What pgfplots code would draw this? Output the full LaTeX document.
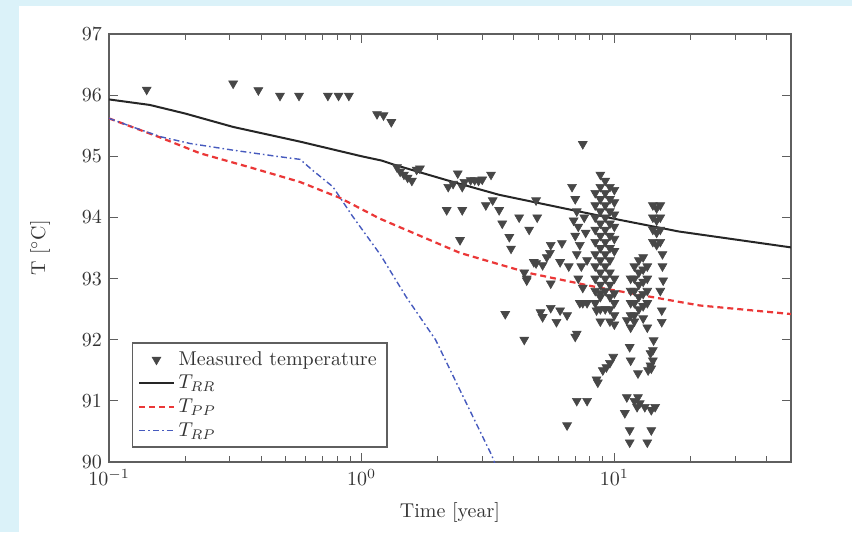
\documentclass[border=0pt]{standalone}
\usepackage{pgfplots}
\pgfplotsset{compat=1.18}
\definecolor{bgblue}{RGB}{219,242,249}
\definecolor{rred}{RGB}{235,55,55}
\definecolor{bblue}{RGB}{70,90,190}
\definecolor{axgray}{RGB}{95,95,95}
\begin{document}
\begin{tikzpicture}
\useasboundingbox (-54.5pt,-35pt) rectangle (371.5pt,231pt);
\fill[bgblue] (-54.5pt,-35pt) rectangle (371.5pt,231pt);
\fill[white] (-45pt,-40pt) rectangle (380pt,228pt);
\begin{axis}[
  width=341pt, height=214pt, scale only axis,
  xmode=log, xmin=0.1, xmax=50,
  ymin=90, ymax=97, ytick={90,91,...,97},
  axis line style={axgray, line width=0.9pt},
  every tick/.style={axgray},
  tick label style={black!80},
  xlabel={Time [year]}, ylabel={T [$^\circ$C]},
  xlabel style={black!80, at={(axis description cs:0.5,-0.117)}, anchor=center},
  ylabel style={black!80, at={(axis description cs:-0.101,0.5)}, anchor=center},
  legend style={at={(axis description cs:0.033,0.033)}, anchor=south west,
    draw=axgray, line width=0.8pt, font=\color{black!80}, row sep=-0.5pt},
  legend cell align=left,
]
\addplot[only marks, mark=triangle*, mark size=2.55pt,
  mark options={rotate=180, fill=black!72, draw=black!72, line width=0.3pt}]
  table {
t T
0.141 96.09
0.31 96.19
0.39 96.08
0.475 95.99
0.565 95.99
0.735 95.99
0.81 95.99
0.89 95.99
1.15 95.69
1.22 95.67
1.31 95.56
1.38 94.82
1.42 94.75
1.47 94.70
1.52 94.65
1.58 94.60
1.65 94.78
1.70 94.80
2.17 94.12
2.5 94.12
2.2 94.50
2.3 94.55
2.4 94.72
2.5 94.50
2.55 94.58
2.7 94.61
2.8 94.61
2.9 94.60
3.0 94.62
2.45 93.63
3.25 94.70
3.3 94.28
3.5 94.12
3.1 94.20
3.6 93.90
3.84 93.68
3.9 93.49
3.7 92.42
4.2 94.00
4.95 94.00
4.6 93.80
4.9 94.28
4.4 93.10
4.5 93.00
4.4 92.00
4.9 93.25
4.8 93.27
5.2 93.22
4.5 92.97
5.6 93.55
6.2 93.58
5.4 93.35
5.56 93.42
5.6 92.92
6.1 93.27
6.6 93.20
5.1 92.45
5.6 92.52
6.1 92.48
6.5 92.40
5.2 92.37
5.9 92.29
6.5 90.60
6.8 94.50
7.0 94.30
7.1 94.10
6.9 93.95
7.2 93.85
7.0 93.70
7.3 93.55
7.1 93.40
7.4 93.20
7.2 93.00
7.5 92.85
7.3 92.60
7.5 95.20
7.1 92.10
7.0 92.05
7.1 91.00
7.8 91.00
7.5 92.60
7.8 92.60
7.6 94.00
7.7 93.75
7.8 93.30
8.4 94.40
8.4 94.20
8.4 94.00
8.4 93.80
8.4 93.60
8.4 93.40
8.4 93.20
8.4 93.00
8.4 92.80
8.4 92.60
8.8 94.70
8.8 94.50
8.8 94.30
8.8 94.10
8.8 93.90
8.8 93.70
8.8 93.50
8.8 93.30
8.8 93.10
8.8 92.90
8.8 92.70
8.8 92.50
8.8 92.30
9.2 94.60
9.2 94.40
9.2 94.20
9.2 94.00
9.2 93.80
9.2 93.60
9.2 93.40
9.2 93.20
9.2 93.00
9.2 92.80
9.2 92.50
9.6 94.50
9.6 94.30
9.6 94.10
9.6 93.90
9.6 93.70
9.6 93.50
9.6 93.30
9.6 93.10
9.6 92.90
9.6 92.70
9.6 92.50
9.6 92.30
10.0 94.45
10.0 94.25
10.0 94.05
10.0 93.85
10.0 93.65
10.0 93.45
10.0 93.00
10.0 92.60
10.0 92.40
10.0 92.25
8.5 91.35
8.6 91.30
9.0 91.50
9.3 91.55
9.6 91.62
9.9 91.72
8.5 92.48
8.8 92.76
10.0 92.76
11.6 93.00
11.6 92.80
11.6 92.60
11.6 92.40
11.6 92.20
12.0 93.20
12.0 93.00
12.0 92.80
12.0 92.60
12.0 92.40
12.0 92.30
12.5 93.30
12.5 93.10
12.5 92.90
12.5 92.70
12.5 92.50
13.0 93.35
13.0 93.15
13.0 92.95
13.0 92.75
13.0 92.55
13.0 92.35
13.5 93.20
13.5 93.00
13.5 92.80
13.5 92.60
13.5 92.20
11.2 92.32
11.5 91.88
11.6 91.66
12.4 91.45
13.9 91.78
14.2 91.66
13.9 91.58
13.6 91.50
14.2 91.83
14.3 91.99
14.0 91.53
11.2 91.06
12.4 91.06
12.6 90.96
12.3 90.90
13.2 90.90
14.0 90.85
11.0 90.80
11.5 90.52
14.0 90.52
11.5 90.32
13.5 90.32
12.0 91.00
14.5 90.90
14.2 94.20
14.2 94.00
14.2 93.80
14.2 93.60
14.7 94.15
14.7 93.95
14.7 93.75
14.7 93.55
15.2 94.20
15.2 94.00
15.2 93.80
15.2 93.60
15.5 93.40
15.5 93.20
15.6 92.97
15.4 92.48
15.4 92.29
15.2 92.80
};
\addlegendentry{Measured temperature}
\addplot[black!85, line width=1pt] coordinates {
  (0.1,95.93) (0.145,95.84) (0.2,95.70) (0.31,95.48) (0.57,95.24)
  (1.0,95.00) (1.2,94.93) (1.35,94.86) (2.17,94.61) (3.5,94.37)
  (6.3,94.15) (10.5,93.96) (18,93.77) (30,93.64) (50,93.51)};
\addlegendentry{$T_{RR}$}
\addplot[rred, line width=1.1pt, dash pattern=on 3pt off 2pt] coordinates {
  (0.1,95.62) (0.159,95.31) (0.229,95.05) (0.361,94.82) (0.57,94.58)
  (0.82,94.32) (1.18,93.98) (1.7,93.70) (2.45,93.42) (4.6,93.09)
  (8.5,92.86) (18,92.62) (21.8,92.56) (50,92.42)};
\addlegendentry{$T_{PP}$}
\addplot[bblue, line width=0.7pt, dash pattern=on 3pt off 1.5pt on 0.8pt off 1.5pt] coordinates {
  (0.1,95.62) (0.13,95.45) (0.16,95.32) (0.209,95.21) (0.31,95.10)
  (0.46,95.00) (0.57,94.95) (0.64,94.77) (0.77,94.50) (0.92,94.02)
  (1.186,93.39) (1.5,92.70) (1.96,92.00) (2.5,91.10) (3.27,90.11) (3.5,89.80)};
\addlegendentry{$T_{RP}$}
\end{axis}
\end{tikzpicture}
\end{document}
